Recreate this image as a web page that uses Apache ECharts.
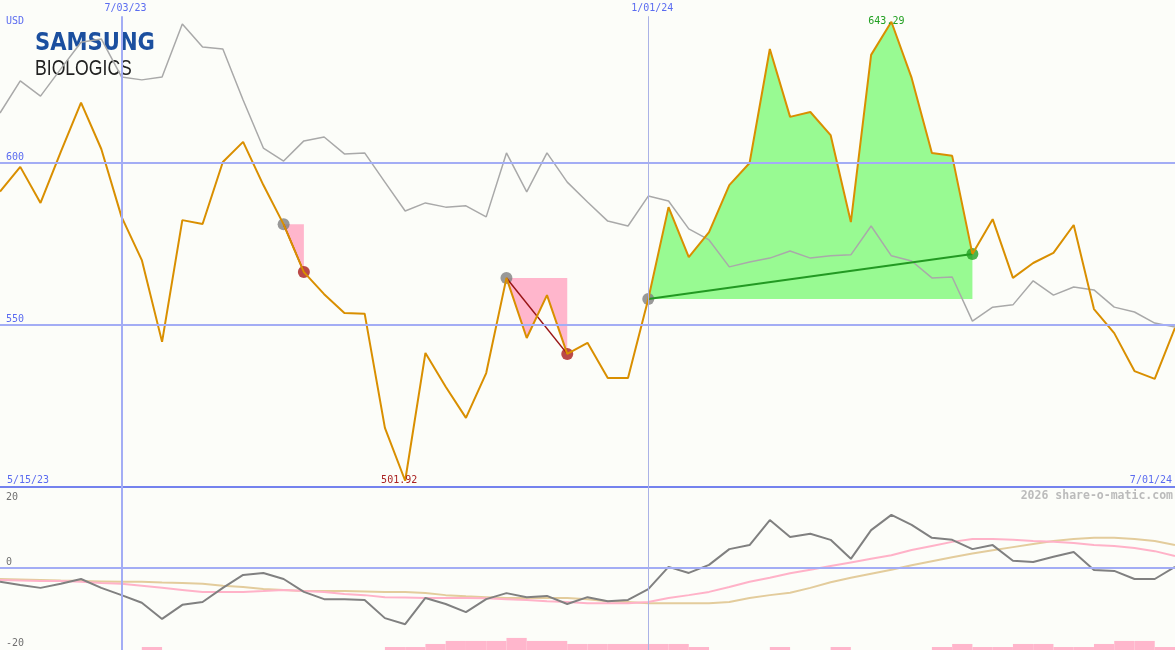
<!DOCTYPE html>
<html><head><meta charset="utf-8">
<script src="https://cdn.jsdelivr.net/npm/echarts@6/dist/echarts.min.js"></script>
<style>html,body{margin:0;padding:0;background:#fcfdf9}#c{width:1175px;height:650px}</style>
</head><body><div id="c"></div>
<script>
// ---- data ----
const price = [591.0,598.6,587.5,603.2,618.4,604.1,583.2,569.9,544.7,582.2,581.0,600.1,606.3,593.0,580.9,566.2,559.4,553.6,553.4,518.2,501.92,541.3,530.9,521.3,535.1,564.4,545.9,559.1,541.0,544.4,533.6,533.6,557.9,586.2,570.8,578.5,593.0,599.8,634.9,614.0,615.5,608.4,581.6,633.1,643.29,626.0,602.9,602.0,571.8,582.5,564.4,569.0,572.1,580.7,554.8,547.4,535.7,533.3,549.0];
const indexLine = [615.2,625.1,620.4,628.8,637.0,638.0,626.3,625.4,626.3,642.6,635.5,634.9,619.2,604.4,600.4,606.6,607.8,602.6,602.9,593.9,585.0,587.5,586.2,586.6,583.2,602.9,590.9,602.9,593.9,587.8,581.9,580.4,589.6,588.1,579.5,576.1,567.8,569.3,570.5,572.7,570.5,571.2,571.5,580.4,571.2,569.6,564.4,564.7,551.1,555.4,556.1,563.5,559.1,561.6,560.7,555.4,553.9,550.5,549.3];
const macd = [-3.5,-4.3,-5.0,-4.0,-2.8,-5.0,-6.8,-8.7,-12.7,-9.2,-8.5,-5.0,-1.8,-1.3,-2.8,-6.0,-7.8,-7.8,-8.0,-12.5,-14.0,-7.5,-9.0,-11.0,-7.8,-6.3,-7.3,-7.0,-9.0,-7.3,-8.3,-8.0,-5.3,0.2,-1.3,0.7,4.6,5.6,11.8,7.6,8.4,6.9,2.2,9.3,13.1,10.6,7.4,6.9,4.6,5.6,1.7,1.4,2.7,3.9,-0.6,-0.8,-2.8,-2.8,0.2];
const signalLine = [-3.05,-3.2,-3.3,-3.3,-3.5,-3.8,-4.0,-4.5,-5.0,-5.5,-6.0,-6.0,-6.0,-5.8,-5.5,-5.8,-6.0,-6.5,-6.8,-7.3,-7.4,-7.5,-7.5,-7.5,-7.6,-7.8,-8.0,-8.3,-8.5,-8.8,-8.8,-8.8,-8.5,-7.5,-6.8,-6.0,-4.8,-3.5,-2.5,-1.4,-0.5,0.4,1.3,2.2,3.1,4.4,5.4,6.4,7.1,7.1,6.9,6.6,6.4,6.1,5.6,5.4,4.9,4.1,2.9];
const slowLine = [-2.8,-2.9,-3.05,-3.2,-3.3,-3.4,-3.5,-3.5,-3.7,-3.8,-4.0,-4.5,-4.8,-5.3,-5.5,-5.8,-5.8,-5.8,-5.9,-6.0,-6.0,-6.3,-6.8,-7.1,-7.3,-7.5,-7.5,-7.5,-7.5,-7.8,-8.3,-8.5,-8.8,-8.8,-8.8,-8.8,-8.5,-7.5,-6.8,-6.2,-5.0,-3.6,-2.5,-1.5,-0.5,0.6,1.6,2.6,3.5,4.3,5.1,5.9,6.6,7.1,7.4,7.4,7.1,6.6,5.6];
const volLevel = [0,0,0,0,0,0,0,1,0,0, 0,0,0,0,0,0,0,0,0,1, 1,2,3,3,3,4,3,3,2,2, 2,2,2,2,1,0,0,0,1,0, 0,1,0,0,0,0,1,2,1,1, 2,2,1,1,2,3,3,1];
const topTickIdx = [6, 32];
const topTickLabels = ['7/03/23', '1/01/24'];
const rangeLabels = ['5/15/23', '7/01/24'];
const priceTicks = [550, 600];
const oscTicks = [-20, 0, 20];
const trendStart = [14, 25, 32];
const trendEnd = [15, 28, 48];
const trendUp = [false, false, true];

// ---- chart ----
const N = price.length;
const mono = 'DejaVu Sans Mono';
const blue = '#5b6cf0';
const gridBlue = '#a3adf5';
const pinkFill = '#ffb6cc';
const greenFill = '#98fa92';

const series = [];
// horizontal + vertical guide lines (main)
series.push({
  type: 'line', xAxisIndex: 0, yAxisIndex: 0, data: [], z: 0, silent: true,
  markLine: {
    symbol: 'none', silent: true, label: {show: false}, animation: false,
    lineStyle: {color: gridBlue, width: 2, type: 'solid'},
    data: priceTicks.map(v => ({yAxis: v})).concat(
      topTickIdx.map((t, k) => [
        {coord: [t, 645], lineStyle: k === 0 ? {color: gridBlue, width: 2, type: 'solid'} : {color: '#aab2e6', width: 1, type: 'solid'}},
        {coord: [t, 500]}
      ]))
  }
});
// trend fills
trendStart.forEach((s, k) => {
  const e = trendEnd[k];
  const d = [];
  for (let i = s; i <= e; i++) d.push([i, price[i]]);
  series.push({
    type: 'line', xAxisIndex: 0, yAxisIndex: 0, data: d, z: 1, silent: true,
    showSymbol: false, symbol: 'none', lineStyle: {width: 0},
    areaStyle: {origin: price[s], color: trendUp[k] ? greenFill : pinkFill, opacity: 1}
  });
});
// start dots (under lines)
series.push({
  type: 'scatter', xAxisIndex: 0, yAxisIndex: 0, z: 1, symbolSize: 12,
  itemStyle: {color: '#808080'},
  data: trendStart.map(s => [s, price[s]])
});
// index line
series.push({
  type: 'line', xAxisIndex: 0, yAxisIndex: 0, z: 2, data: indexLine.map((v, i) => [i, v]),
  showSymbol: false, symbol: 'none', lineStyle: {color: '#a9a9a9', width: 1.5}
});
// end dots
series.push({
  type: 'scatter', xAxisIndex: 0, yAxisIndex: 0, z: 3, symbolSize: 12,
  data: trendEnd.map((e, k) => ({value: [e, price[e]], itemStyle: {color: trendUp[k] ? '#22a022' : '#aa1c1c'}}))
});
// trend connectors
trendStart.forEach((s, k) => {
  const e = trendEnd[k];
  series.push({
    type: 'line', xAxisIndex: 0, yAxisIndex: 0, z: 3, silent: true,
    data: [[s, price[s]], [e, price[e]]], showSymbol: false, symbol: 'none',
    lineStyle: trendUp[k] ? {color: '#229922', width: 2} : {color: '#991515', width: 1.5}
  });
});
// price
series.push({
  type: 'line', xAxisIndex: 0, yAxisIndex: 0, z: 4, data: price.map((v, i) => [i, v]),
  showSymbol: false, symbol: 'none', lineStyle: {color: '#d98f00', width: 2},
  markPoint: {
    symbol: 'circle', symbolSize: 0, silent: true, animation: false,
    label: {show: true, position: 'inside', fontFamily: mono, fontSize: 10, formatter: p => Number(p.value).toFixed(2)},
    data: [
      {type: 'max', valueDim: 'y', label: {color: '#22a022', offset: [-5, 0]}},
      {type: 'min', valueDim: 'y', label: {color: '#aa2222', offset: [-6, 0]}}
    ]
  }
});
// lower guide lines
series.push({
  type: 'line', xAxisIndex: 2, yAxisIndex: 1, data: [], z: 0, silent: true,
  markLine: {
    symbol: 'none', silent: true, label: {show: false}, animation: false,
    lineStyle: {color: gridBlue, width: 2, type: 'solid'},
    data: [{yAxis: 0}].concat(topTickIdx.map((t, k) => ({
      xAxis: t, lineStyle: k === 0 ? {color: gridBlue, width: 2, type: 'solid'} : {color: '#aab2e6', width: 1, type: 'solid'}
    })))
  }
});
series.push({
  type: 'bar', xAxisIndex: 3, yAxisIndex: 2, data: volLevel, barCategoryGap: '0%', barGap: '0%',
  itemStyle: {color: '#ffb6cc'}, silent: true, z: 1
});
series.push({
  type: 'line', xAxisIndex: 2, yAxisIndex: 1, z: 2, data: slowLine.map((v, i) => [i, v]),
  showSymbol: false, symbol: 'none', lineStyle: {color: '#e3cc9c', width: 2}
});
series.push({
  type: 'line', xAxisIndex: 2, yAxisIndex: 1, z: 3, data: signalLine.map((v, i) => [i, v]),
  showSymbol: false, symbol: 'none', lineStyle: {color: '#ffb2c8', width: 2}
});
series.push({
  type: 'line', xAxisIndex: 2, yAxisIndex: 1, z: 4, data: macd.map((v, i) => [i, v]),
  showSymbol: false, symbol: 'none', lineStyle: {color: '#808080', width: 2}
});

const hidden = {axisLine: {show: false}, axisTick: {show: false}, splitLine: {show: false}};
const option = {
  backgroundColor: '#fcfdf9',
  animation: false,
  grid: [
    {left: 0, right: 0, top: 0, height: 487},
    {left: 0, right: 0, top: 487, height: 163}
  ],
  xAxis: [
    {gridIndex: 0, type: 'value', min: 0, max: N - 1, position: 'bottom',
     axisLine: {show: true, onZero: false, lineStyle: {color: '#7482ee', width: 2}},
     axisTick: {show: false}, splitLine: {show: false},
     axisLabel: {inside: true, customValues: [0, N - 1], margin: 2, verticalAlign: 'bottom',
       alignMinLabel: 'left', alignMaxLabel: 'right',
       color: blue, fontFamily: mono, fontSize: 10,
       formatter: v => v === 0 ? '{l|' + rangeLabels[0] + '}' : '{r|' + rangeLabels[1] + '}',
       rich: {l: {padding: [0, 0, 0, 7]}, r: {padding: [0, 3, 0, 0]}}}},
    Object.assign({gridIndex: 0, type: 'value', min: 0, max: N - 1, position: 'top',
     axisLabel: {inside: true, customValues: topTickIdx, margin: 3, verticalAlign: 'top',
       color: blue, fontFamily: mono, fontSize: 10,
       formatter: v => '{a|' + topTickLabels[topTickIdx.indexOf(v)] + '}',
       rich: {a: {padding: [0, 0, 0, 8]}}}}, hidden),
    {gridIndex: 1, type: 'value', min: 0, max: N - 1, show: false},
    {gridIndex: 1, type: 'category', data: volLevel.map((_, j) => j), boundaryGap: true, show: false}
  ],
  yAxis: [
    Object.assign({gridIndex: 0, type: 'value', min: 500, max: 650,
     axisLabel: {inside: true, customValues: priceTicks, margin: 6, verticalAlign: 'bottom',
       color: blue, fontFamily: mono, fontSize: 10}}, hidden),
    Object.assign({gridIndex: 1, type: 'value', min: -20.4, max: 20,
     axisLabel: {inside: true, customValues: oscTicks, margin: 6, verticalAlign: 'bottom',
       verticalAlignMaxLabel: 'top',
       color: '#707070', fontFamily: mono, fontSize: 10,
       formatter: v => v === oscTicks[oscTicks.length - 1] ? '{t|' + v + '}' : String(v),
       rich: {t: {padding: [5, 0, 0, 0]}}}}, hidden),
    {gridIndex: 1, type: 'value', min: 0, max: 54, show: false}
  ],
  graphic: [
    {type: 'text', x: 6, y: 21.5, silent: true, style: {text: 'USD', fill: blue, font: '10px "DejaVu Sans Mono"', textVerticalAlign: 'middle'}},
    {type: 'text', x: 35, y: 44, scaleX: 0.88, silent: true, style: {text: 'SAMSUNG', fill: '#1b4f9f', font: 'bold 24px "DejaVu Sans"', textVerticalAlign: 'middle'}},
    {type: 'text', x: 35, y: 69, scaleX: 0.8, silent: true, style: {text: 'BIOLOGICS', fill: '#222222', font: '22px "Liberation Sans"', textVerticalAlign: 'middle'}},
    {type: 'text', x: 1173, y: 496, silent: true, style: {text: '2026 share-o-matic.com', fill: '#bbbbbb', font: 'bold 11.5px "DejaVu Sans Mono"', textAlign: 'right', textVerticalAlign: 'middle'}}
  ],
  series: series
};
const chart = echarts.init(document.getElementById('c'), null, {renderer: 'canvas'});
chart.setOption(option);
</script>
</body></html>
